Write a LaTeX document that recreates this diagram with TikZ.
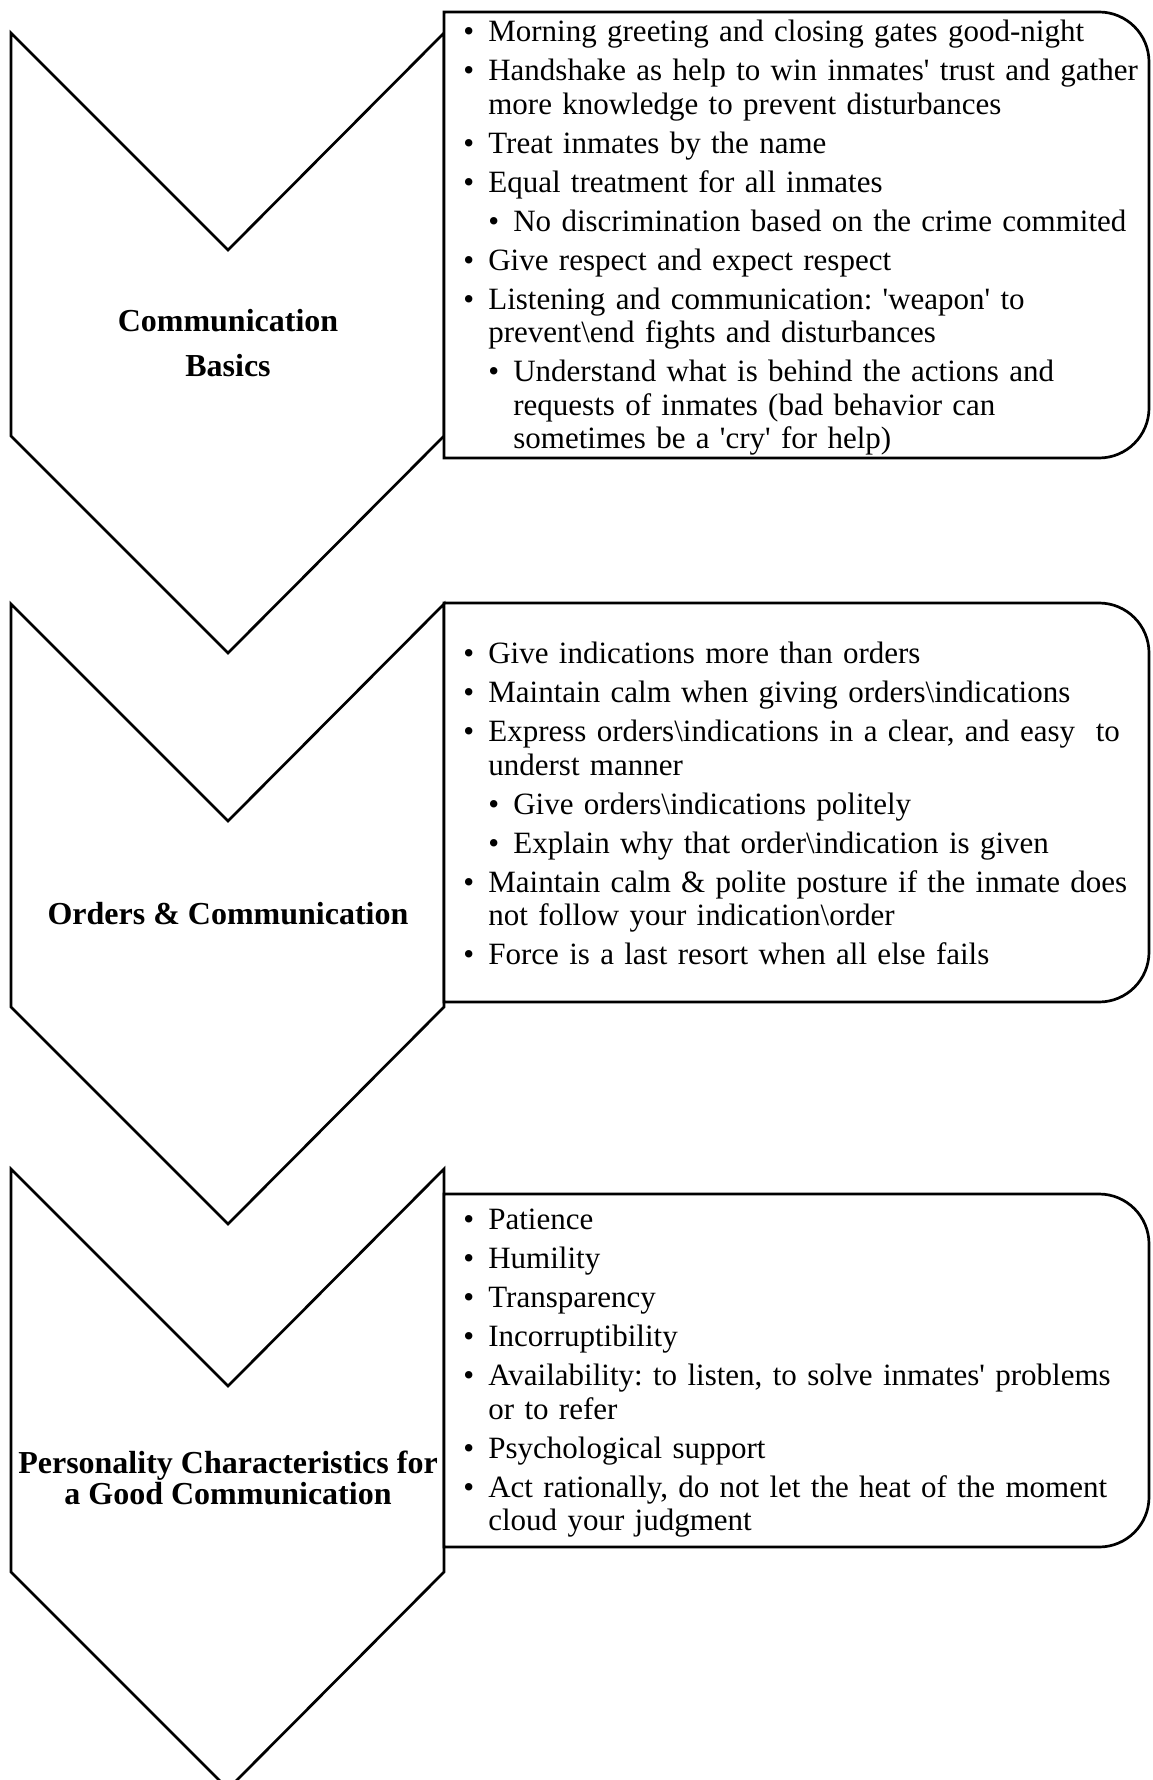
\documentclass[tikz,border=0pt]{standalone}
\usepackage{fontspec}
\setmainfont{Liberation Serif}
\frenchspacing
\newcommand{\bitem}[1]{\par\hangindent=12.5pt\hangafter=1\noindent\makebox[12.5pt][l]{\textbullet}#1\par}
\newcommand{\bsub}[1]{\par\hangindent=25pt\hangafter=1\noindent\hspace*{12.5pt}\makebox[12.5pt][l]{\textbullet}#1\par}
\newcommand{\apos}{\textquotesingle}

\begin{document}
\begin{tikzpicture}
      [x=0.5pt,y=-0.5pt,line width=1.35pt,every node/.style={inner sep=0pt},
       chev/.style={draw,fill=white},panel/.style={draw,fill=white},
       head/.style={font=\bfseries\fontsize{16}{22.5}\selectfont,align=center},
       items/.style={anchor=west,text width=350pt,align=left,font=\frenchspacing\fontsize{15.5}{16.8}\selectfont}]
	\useasboundingbox (0,0) rectangle (1152,1780);

	\foreach \t in {33,604,1169}
	  \draw[chev] (11,\t) -- (228,\t+217) -- (444,\t) -- (444,\t+403) -- (228,\t+620) -- (11,\t+403) -- cycle;

	\foreach \ya/\yb in {12/458,603/1002,1194/1547}
	  \draw[panel] (444,\ya) -- (1099,\ya) arc[start angle=-90,end angle=0,radius=50]
	    -- (1149,\yb-50) arc[start angle=0,end angle=90,radius=50] -- (444,\yb) -- cycle;

	\node (basics) [head] at (228,343) {Communication\\Basics};
	\node (orders) [head] at (228,914) {Orders \& Communication};
	\node (traits) [head,font=\bfseries\fontsize{16}{15.5}\selectfont] at (228,1478) {Personality Characteristics for\\a Good Communication};

	\node (basicslist) [items] at (462,229) {\setlength{\parskip}{2.7pt}%
	  \bitem{Morning greeting and closing gates good-night}
	  \bitem{Handshake as help to win inmates\apos{} trust and gather\newline more knowledge to prevent disturbances}
	  \bitem{Treat inmates by the name}
	  \bitem{Equal treatment for all inmates}
	  \bsub{No discrimination based on the crime commited}
	  \bitem{Give respect and expect respect}
	  \bitem{Listening and communication: \apos{}weapon\apos{} to\newline prevent\textbackslash{}end fights and disturbances}
	  \bsub{Understand what is behind the actions and\newline requests of inmates (bad behavior can\newline sometimes be a \apos{}cry\apos{} for help)}};
	\node (orderslist) [items] at (462,795) {\setlength{\parskip}{2.7pt}%
	  \bitem{Give indications more than orders}
	  \bitem{Maintain calm when giving orders\textbackslash{}indications}
	  \bitem{Express orders\textbackslash{}indications in a clear, and easy~ to\newline underst manner}
	  \bsub{Give orders\textbackslash{}indications politely}
	  \bsub{Explain why that order\textbackslash{}indication is given}
	  \bitem{Maintain calm \& polite posture if the inmate does\newline not follow your indication\textbackslash{}order}
	  \bitem{Force is a last resort when all else fails}};
	\node (traitslist) [items] at (462,1364) {\setlength{\parskip}{2.7pt}%
	  \bitem{Patience}
	  \bitem{Humility}
	  \bitem{Transparency}
	  \bitem{Incorruptibility}
	  \bitem{Availability: to listen, to solve inmates\apos{} problems\newline or to refer}
	  \bitem{Psychological support}
	  \bitem{Act rationally, do not let the heat of the moment\newline cloud your judgment}};

	%\draw (basics) -- (basicslist);
\end{tikzpicture}
\end{document}
